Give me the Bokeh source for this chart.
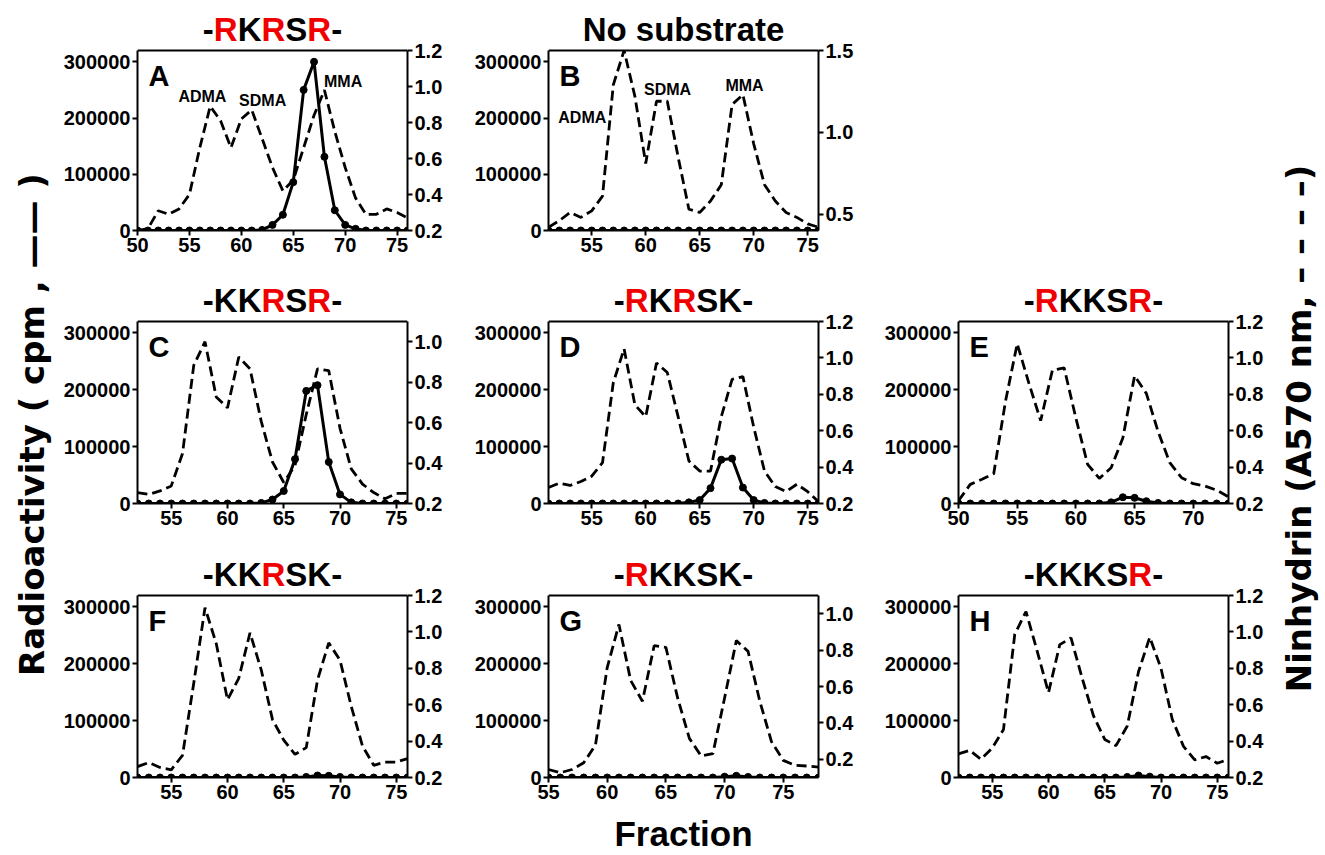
import math
from bokeh.plotting import figure
from bokeh.layouts import row, column, Spacer
from bokeh.models import (Range1d, LinearAxis, FixedTicker, PrintfTickFormatter,
                          Label, BasicTickFormatter, Span)
from bokeh.embed import file_html
from bokeh.resources import INLINE

FONT = "Liberation Sans"
SIDE_FONT = "DejaVu Sans"

# ---------------- data ----------------
fractions_A = list(range(50, 77))
radio_A = [0, 0, 0, 0, 0, 0, 0, 0, 0, 0, 0, 0, 1000, 10000, 28000, 86000, 250000,
           300000, 131000, 36000, 10000, 3000, 0, 0, 0, 0, 0]
ninhydrin_A = [0.20, 0.21, 0.31, 0.29, 0.32, 0.40, 0.66, 0.89, 0.81, 0.66, 0.82, 0.87,
               0.71, 0.55, 0.42, 0.48, 0.66, 0.84, 0.98, 0.75, 0.55, 0.38, 0.29, 0.29,
               0.32, 0.30, 0.27]

fractions_B = list(range(51, 77))
radio_B = [0] * 26
ninhydrin_B = [0.42, 0.46, 0.51, 0.48, 0.52, 0.61, 1.29, 1.50, 1.22, 0.81, 1.19, 1.19,
               0.85, 0.53, 0.51, 0.58, 0.68, 1.17, 1.23, 0.93, 0.68, 0.58, 0.51, 0.48,
               0.44, 0.42]

fractions_C = list(range(52, 77))
radio_C = [0, 0, 0, 0, 0, 0, 0, 0, 0, 0, 0, 1000, 7000, 22000, 78000, 198000, 208000,
           73000, 16000, 2000, 0, 0, 0, 0, 0]
ninhydrin_C = [0.254, 0.245, 0.262, 0.287, 0.447, 0.883, 1.0, 0.727, 0.673, 0.924,
               0.866, 0.606, 0.405, 0.304, 0.388, 0.64, 0.866, 0.857, 0.572, 0.371,
               0.296, 0.254, 0.223, 0.25, 0.25]

fractions_D = list(range(51, 77))
radio_D = [0, 0, 0, 0, 0, 0, 0, 0, 0, 0, 0, 0, 0, 2000, 6000, 27000, 77000, 79000,
           28000, 6000, 1000, 0, 0, 0, 0, 0]
ninhydrin_D = [0.288, 0.312, 0.299, 0.321, 0.35, 0.424, 0.864, 1.05, 0.742, 0.677,
               0.972, 0.92, 0.677, 0.434, 0.378, 0.378, 0.677, 0.882, 0.897, 0.62,
               0.378, 0.293, 0.265, 0.306, 0.265, 0.21]

fractions_E = list(range(50, 74))
radio_E = [0, 0, 0, 0, 0, 0, 0, 0, 0, 0, 0, 0, 0, 2000, 11000, 10000, 4000, 1000,
           0, 0, 0, 0, 0, 0]
ninhydrin_E = [0.215, 0.305, 0.333, 0.364, 0.76, 1.078, 0.86, 0.655, 0.933, 0.945,
               0.669, 0.415, 0.338, 0.396, 0.56, 0.902, 0.805, 0.596, 0.424, 0.342,
               0.309, 0.296, 0.273, 0.236]

fractions_F = list(range(52, 77))
radio_F = [0] * 15 + [1000, 3500, 3000, 1000] + [0] * 6
ninhydrin_F = [0.26, 0.282, 0.255, 0.242, 0.322, 0.718, 1.133, 0.936, 0.627, 0.745,
               0.995, 0.791, 0.518, 0.405, 0.327, 0.364, 0.736, 0.94, 0.845, 0.591,
               0.373, 0.267, 0.285, 0.285, 0.304]

fractions_G = list(range(55, 79))
radio_G = [0] * 15 + [1500, 3000, 1000] + [0] * 6
ninhydrin_G = [0.144, 0.126, 0.144, 0.181, 0.278, 0.704, 0.941, 0.633, 0.519, 0.824,
               0.815, 0.537, 0.315, 0.219, 0.231, 0.537, 0.852, 0.793, 0.519, 0.296,
               0.194, 0.167, 0.163, 0.157]

fractions_H = list(range(52, 77))
radio_H = [0] * 15 + [1000, 3500, 1500] + [0] * 7
ninhydrin_H = [0.33, 0.349, 0.30, 0.362, 0.464, 0.986, 1.112, 0.893, 0.666, 0.93,
               0.967, 0.744, 0.539, 0.409, 0.375, 0.483, 0.781, 0.971, 0.80, 0.52,
               0.371, 0.297, 0.315, 0.278, 0.30]

left_ticks = [0, 100000, 200000, 300000]
x_ticks_50 = [50, 55, 60, 65, 70, 75]
x_ticks_55 = [55, 60, 65, 70, 75]
x_ticks_E = [50, 55, 60, 65, 70]
right_ticks_12 = [0.2, 0.4, 0.6, 0.8, 1.0, 1.2]
right_ticks_10 = [0.2, 0.4, 0.6, 0.8, 1.0]
right_ticks_B = [0.5, 1.0, 1.5]

RED = "#f00000"
BLACK = "#000000"
CW = {"-": 0.333, "R": 0.722, "K": 0.722, "S": 0.667}

YTOP = 320000
FW = 270

# column borders
L1, R1 = 77, 55
L2, R2 = 86, 55
L3, R3 = 85, 38
PB = 32
FH1, FH2, FH3 = 180, 182, 182
EXT1, EXT2, EXT3 = 50, 59, 60
FRACTION_H = 45
SIDE_L, SIDE_R = 60, 55
TITLE_SIZE = 33


def style_axis(ax):
    ax.axis_line_width = 2
    ax.axis_line_color = "black"
    ax.major_tick_line_width = 2
    ax.major_tick_out = 5
    ax.major_tick_in = 0
    ax.minor_tick_line_color = None
    ax.major_label_text_font = FONT
    ax.major_label_text_font_style = "bold"
    ax.major_label_text_font_size = "20px"
    ax.major_label_text_color = "black"
    ax.major_label_standoff = 2


def panel(x, radio, nin, xr, rr, xticks, rticks, L, R, fh, ext, letter,
          title, reds=(), annots=()):
    scale = (fh + ext) / fh
    p = figure(frame_width=FW, frame_height=fh + ext,
               x_range=Range1d(*xr), y_range=Range1d(0, YTOP * scale),
               output_backend="svg", toolbar_location=None,
               min_border_left=L, min_border_right=R, min_border_top=0,
               min_border_bottom=PB, title=None)
    p.xgrid.visible = False
    p.ygrid.visible = False
    p.outline_line_color = None
    p.xaxis.ticker = FixedTicker(ticks=xticks)
    p.yaxis.ticker = FixedTicker(ticks=left_ticks)
    p.yaxis.formatter = BasicTickFormatter(use_scientific=False)
    p.yaxis.bounds = (0, YTOP)
    style_axis(p.xaxis[0])
    style_axis(p.yaxis[0])
    p.extra_y_ranges = {"nin": Range1d(rr[0], rr[0] + (rr[1] - rr[0]) * scale)}
    rax = LinearAxis(y_range_name="nin", ticker=FixedTicker(ticks=rticks),
                     formatter=PrintfTickFormatter(format="%.1f"), bounds=rr)
    style_axis(rax)
    p.add_layout(rax, "right")
    p.add_layout(Span(location=YTOP, dimension="width", line_color="black",
                      line_width=2))

    p.line(x, nin, y_range_name="nin", line_color="black", line_width=2.8,
           line_dash="10 5")
    p.line(x, radio, line_color="black", line_width=3)
    p.scatter(x, radio, size=7, color="black")

    ypx = YTOP / fh                  # data units per pixel (vertical)
    xpx = (xr[1] - xr[0]) / FW       # data units per pixel (horizontal)

    p.add_layout(Label(x=xr[0] + 11 * xpx, y=YTOP - 25 * ypx, text=letter,
                       text_font=FONT, text_font_style="bold", text_font_size="29px",
                       text_align="left", text_baseline="middle", text_color="black"))

    xmid = (xr[0] + xr[1]) / 2
    ty = YTOP + 21 * ypx
    if reds is None:
        p.add_layout(Label(x=xmid, y=ty, text=title, text_font=FONT,
                           text_font_style="bold", text_font_size=f"{TITLE_SIZE}px",
                           text_color=BLACK, text_align="center", text_baseline="middle"))
    else:
        total = sum(CW[c] for c in title) * TITLE_SIZE
        cum = -total / 2
        for i, c in enumerate(title):
            p.add_layout(Label(x=xmid + cum * xpx, y=ty, text=c, text_font=FONT,
                               text_font_style="bold", text_font_size=f"{TITLE_SIZE}px",
                               text_color=RED if i in reds else BLACK,
                               text_align="left", text_baseline="middle"))
            cum += CW[c] * TITLE_SIZE
    for (ax_, ay_, t) in annots:
        p.add_layout(Label(x=ax_, y=ay_, text=t, text_font=FONT, text_font_style="bold",
                           text_font_size="16px", text_align="center",
                           text_baseline="middle", text_color="black"))
    return p


def strip(w, h):
    f = figure(width=w, height=h, x_range=Range1d(0, w), y_range=Range1d(0, h),
               min_border=0, toolbar_location=None, output_backend="svg",
               x_axis_location=None, y_axis_location=None, title=None)
    f.outline_line_color = None
    f.grid.visible = False
    return f


pA = panel(fractions_A, radio_A, ninhydrin_A, (50, 76), (0.2, 1.2), x_ticks_50,
           right_ticks_12, L1, R1, FH1, EXT1, "A", "-RKRSR-", {1, 3, 5},
           annots=[(56.25, 237600, "ADMA"), (62.05, 231700, "SDMA"), (69.8, 264300, "MMA")])
pB = panel(fractions_B, radio_B, ninhydrin_B, (51, 76), (0.4, 1.5), x_ticks_55,
           right_ticks_B, L2, R2, FH1, EXT1, "B", "No substrate", None,
           annots=[(54.13, 201400, "ADMA"), (62.03, 250400, "SDMA"), (69.15, 258000, "MMA")])
pC = panel(fractions_C, radio_C, ninhydrin_C, (52, 76), (0.2, 1.1), x_ticks_55,
           right_ticks_10, L1, R1, FH2, EXT2, "C", "-KKRSR-", {3, 5})
pD = panel(fractions_D, radio_D, ninhydrin_D, (51, 76), (0.2, 1.2), x_ticks_55,
           right_ticks_12, L2, R2, FH2, EXT2, "D", "-RKRSK-", {1, 3})
pE = panel(fractions_E, radio_E, ninhydrin_E, (50, 73), (0.2, 1.2), x_ticks_E,
           right_ticks_12, L3, R3, FH2, EXT2, "E", "-RKKSR-", {1, 5})
pF = panel(fractions_F, radio_F, ninhydrin_F, (52, 76), (0.2, 1.2), x_ticks_55,
           right_ticks_12, L1, R1, FH3, EXT3, "F", "-KKRSK-", {3})
pG = panel(fractions_G, radio_G, ninhydrin_G, (55, 78), (0.1, 1.1), x_ticks_55,
           right_ticks_10, L2, R2, FH3, EXT3, "G", "-RKKSK-", {1})
pH = panel(fractions_H, radio_H, ninhydrin_H, (52, 76), (0.2, 1.2), x_ticks_55,
           right_ticks_12, L3, R3, FH3, EXT3, "H", "-KKKSR-", {5})

W1, W2, W3 = L1 + FW + R1, L2 + FW + R2, L3 + FW + R3

r1 = row(pA, pB, Spacer(width=W3, height=EXT1 + FH1 + PB))
r2 = row(pC, pD, pE)
r3 = row(pF, pG, pH)

frac = strip(W1 + W2 + W3, FRACTION_H)
frac.add_layout(Label(x=W1 + L2 + FW / 2, y=FRACTION_H - 24, text="Fraction",
                      text_font=FONT, text_font_style="bold", text_font_size="35px",
                      text_align="center", text_baseline="middle", text_color="black"))

grid = column(r1, r2, r3, frac)

TOTAL_H = (EXT1 + EXT2 + EXT3 + 3 * PB + FH1 + FH2 + FH3 + FRACTION_H)


def side_fig(w, text, cx, cy):
    f = strip(w, TOTAL_H)
    f.add_layout(Label(x=cx, y=cy, text=text, angle=math.pi / 2, text_font=SIDE_FONT,
                       text_font_style="bold", text_font_size="34px", text_align="center",
                       text_baseline="middle", text_color="black"))
    return f


left_fig = side_fig(SIDE_L, "Radioactivity ( cpm , \u2014\u2014 )", 31, TOTAL_H - 424)
right_fig = side_fig(SIDE_R, "Ninhydrin (A570 nm, \u2013 \u2013 \u2013 \u2013)", 32,
                     TOTAL_H - 428)

layout = row(left_fig, grid, right_fig)

open("out.html", "w").write(file_html(layout, INLINE))
